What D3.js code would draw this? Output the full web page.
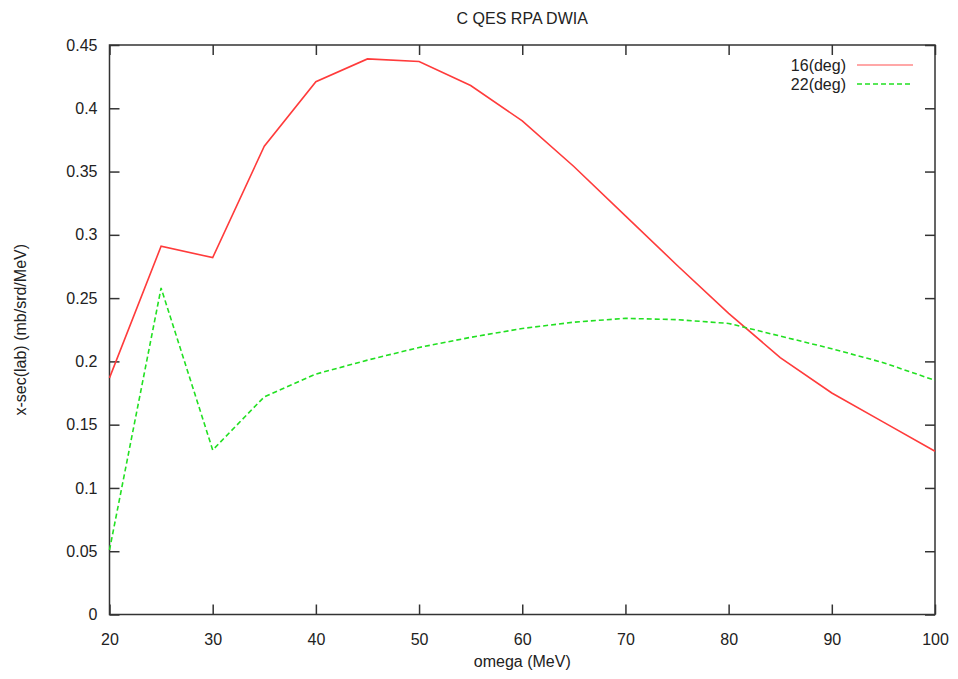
<!DOCTYPE html>
<html>
<head>
<meta charset="utf-8">
<script src="https://cdn.jsdelivr.net/npm/d3@7"></script>
<style>
  body { margin: 0; background: #fff; }
  text { font-family: "Liberation Sans", Arial, sans-serif; fill: #222; }
</style>
</head>
<body>
<svg id="chart"></svg>
<script>
// data
var omega = [20, 25, 30, 35, 40, 45, 50, 55, 60, 65, 70, 75, 80, 85, 90, 95, 100]
var deg16 = [0.187, 0.291, 0.282, 0.370, 0.421, 0.439, 0.437, 0.418, 0.390, 0.354, 0.315, 0.276, 0.238, 0.203, 0.175, 0.152, 0.129]
var deg22 = [0.051, 0.258, 0.130, 0.172, 0.190, 0.201, 0.211, 0.219, 0.226, 0.231, 0.234, 0.233, 0.230, 0.220, 0.210, 0.199, 0.185]
var seriesNames = ["16(deg)", "22(deg)"]
var xTicks = [20, 30, 40, 50, 60, 70, 80, 90, 100]
var yTicks = [0, 0.05, 0.1, 0.15, 0.2, 0.25, 0.3, 0.35, 0.4, 0.45]

var width = 958, height = 679
var margin = { top: 45, right: 23, bottom: 64.5, left: 109.5 }
var w = width - margin.left - margin.right,
    h = height - margin.top - margin.bottom

var svg = d3.select("#chart")
    .attr("width", width)
    .attr("height", height)

var x = d3.scaleLinear().domain([20, 100]).range([0, w])
var y = d3.scaleLinear().domain([0, 0.45]).range([h, 0])

var g = svg.append("g")
    .attr("transform", "translate(" + margin.left + "," + margin.top + ")")

var axisColor = "#333"
var fmt = function (d) { return d3.format("~g")(d) }

// bottom / left axes with inward ticks
var xAxis = g.append("g")
    .attr("transform", "translate(0," + h + ")")
    .call(d3.axisBottom(x).tickValues(xTicks).tickSize(-10).tickPadding(19).tickFormat(fmt))
var yAxis = g.append("g")
    .call(d3.axisLeft(y).tickValues(yTicks).tickSize(-10).tickPadding(12).tickFormat(fmt))
// mirror ticks on top and right
var xTop = g.append("g")
    .call(d3.axisTop(x).tickValues(xTicks).tickSize(-10).tickFormat(""))
var yRight = g.append("g")
    .attr("transform", "translate(" + w + ",0)")
    .call(d3.axisRight(y).tickValues(yTicks).tickSize(-10).tickFormat(""))

for (let a of [xAxis, yAxis, xTop, yRight]) {
    a.select(".domain").remove()
    a.selectAll(".tick line").attr("stroke", axisColor).attr("stroke-width", 1.5)
    a.selectAll(".tick text")
        .style("font-size", "16px")
        .style("font-family", "Liberation Sans, Arial, sans-serif")
        .attr("fill", "#222")
}

g.append("rect")
    .attr("width", w)
    .attr("height", h)
    .attr("fill", "none")
    .attr("stroke", axisColor)
    .attr("stroke-width", 1.5)

// lines
var line16 = d3.line().x((d, i) => x(omega[i])).y(d => y(d))
g.append("path")
    .datum(deg16)
    .attr("d", line16)
    .attr("fill", "none")
    .attr("stroke", "#ff3b3b")
    .attr("stroke-width", 1.6)

g.append("path")
    .datum(deg22)
    .attr("d", line16)
    .attr("fill", "none")
    .attr("stroke", "#22e022")
    .attr("stroke-width", 1.6)
    .attr("stroke-dasharray", "5,3")

// legend
var legendColors = ["#ff8a8a", "#22e022"]
var legendDash = [null, "5,3"]
var legend = svg.selectAll(".legend")
    .data(seriesNames)
    .enter().append("g")
    .attr("class", "legend")
    .attr("transform", (d, i) => "translate(0," + (65 + i * 19) + ")")

legend.append("text")
    .attr("x", 846)
    .attr("y", 6)
    .attr("text-anchor", "end")
    .style("font-size", "16px")
    .text(d => d)

legend.append("line")
    .attr("x1", 857)
    .attr("x2", 913)
    .attr("y1", 0)
    .attr("y2", 0)
    .attr("stroke", (d, i) => legendColors[i])
    .attr("stroke-width", 1.6)
    .attr("stroke-dasharray", (d, i) => legendDash[i])

// titles
svg.append("text")
    .attr("x", margin.left + w / 2)
    .attr("y", 24)
    .attr("text-anchor", "middle")
    .style("font-size", "16px")
    .text("C QES RPA DWIA")

svg.append("text")
    .attr("x", margin.left + w / 2)
    .attr("y", 667)
    .attr("text-anchor", "middle")
    .style("font-size", "16px")
    .text("omega (MeV)")

svg.append("text")
    .attr("transform", "translate(26," + (margin.top + h / 2) + ") rotate(-90)")
    .attr("text-anchor", "middle")
    .style("font-size", "16px")
    .text("x-sec(lab) (mb/srd/MeV)")
</script>
</body>
</html>
